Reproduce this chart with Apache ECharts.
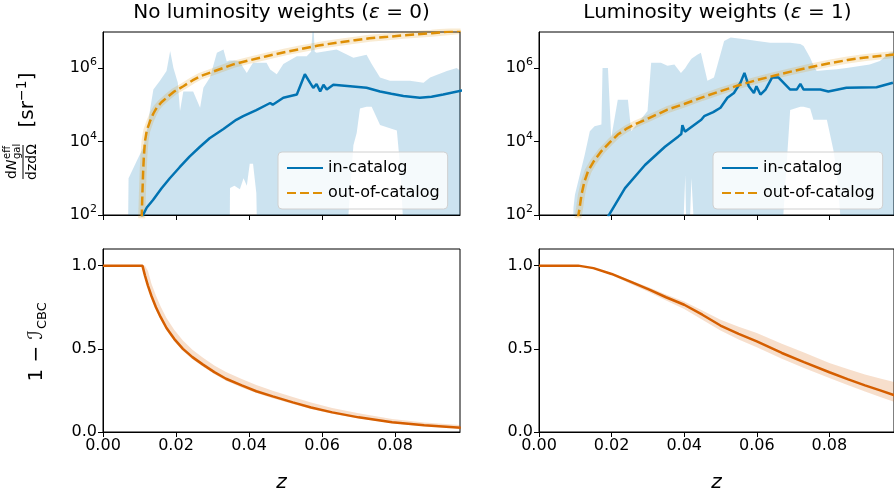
<!DOCTYPE html>
<html>
<head>
<meta charset="utf-8">
<title>Effective galaxy density and completeness</title>
<script src="https://cdn.jsdelivr.net/npm/echarts@6/dist/echarts.min.js"></script>
<style>
  html, body { margin: 0; padding: 0; background: #fff; }
  #chart { width: 894px; height: 497px; }
</style>
</head>
<body>
<div id="chart"></div>
<script>
const FONT = 'DejaVu Sans'
const zMax = 0.0978
const zTicks = [0, 0.02, 0.04, 0.06, 0.08]
const logTicks = [1e2, 1e4, 1e6]
const fracTicks = [0, 0.5, 1.0]

// --- top left: no luminosity weights ---
const zInL = [0.0106, 0.0120, 0.0137, 0.0160, 0.0183, 0.0210, 0.0237, 0.0265, 0.0292, 0.0330, 0.0365, 0.0384, 0.0420, 0.0458, 0.0465, 0.0494, 0.0531, 0.0553, 0.0567, 0.0576, 0.0585, 0.0595, 0.0604, 0.0613, 0.0631, 0.0677, 0.0722, 0.0759, 0.0790, 0.0823, 0.0868, 0.0900, 0.0932, 0.0984]
const inCatL = [85, 160, 257, 525, 1000, 2000, 3900, 7100, 1.23e4, 2.2e4, 3.9e4, 4.9e4, 7.2e4, 1.12e5, 1.0e5, 1.55e5, 1.9e5, 6.8e5, 4.0e5, 2.9e5, 3.7e5, 2.3e5, 3.5e5, 2.6e5, 3.5e5, 3.2e5, 2.9e5, 2.3e5, 2.0e5, 1.74e5, 1.55e5, 1.66e5, 1.9e5, 2.45e5]

const zOutL = [0.0106, 0.0108, 0.0110, 0.0112, 0.0115, 0.0120, 0.0129, 0.0138, 0.0147, 0.0160, 0.0174, 0.0195, 0.0220, 0.0245, 0.0266, 0.0300, 0.0357, 0.0400, 0.0448, 0.0500, 0.0540, 0.0590, 0.0640, 0.0690, 0.0730, 0.0780, 0.0823, 0.0900, 0.0980]
const outCatL = [80, 400, 1.55e3, 4.0e3, 1.02e4, 2.0e4, 3.6e4, 5.8e4, 8.3e4, 1.17e5, 1.55e5, 2.3e5, 3.2e5, 4.6e5, 6.0e5, 7.9e5, 1.26e6, 1.62e6, 2.1e6, 2.75e6, 3.3e6, 4.1e6, 4.9e6, 5.75e6, 6.5e6, 7.1e6, 7.8e6, 8.9e6, 1.05e7]

const zBandL = [0.0068, 0.0070, 0.0092, 0.0110, 0.0122, 0.0129, 0.0138, 0.0156, 0.0174, 0.0184, 0.0193, 0.0205, 0.0211, 0.0220, 0.0247, 0.0266, 0.0275, 0.0293, 0.0312, 0.0330, 0.0339, 0.0346, 0.0348, 0.0360, 0.0375, 0.0385, 0.0394, 0.0402, 0.0411, 0.0420, 0.0425, 0.0448, 0.0458, 0.0476, 0.0494, 0.0531, 0.0558, 0.0570, 0.0576, 0.0580, 0.0585, 0.0640, 0.0658, 0.0686, 0.0695, 0.0704, 0.0722, 0.0736, 0.0759, 0.0786, 0.0805, 0.0814, 0.0832, 0.0841, 0.0878, 0.0896, 0.0942, 0.0969, 0.0980]
const bandHiL = [10, 1e3, 2.9e3, 6.8e3, 2.5e4, 7.4e4, 2.6e5, 4.5e5, 8.3e5, 2.9e6, 1.0e6, 4.0e5, 6.8e4, 2.3e5, 2.3e5, 8.3e4, 2.9e5, 5.5e5, 2.6e6, 3.2e6, 1.5e6, 1.6e6, 1.6e6, 1.6e6, 1.5e6, 1.0e6, 7.4e5, 1.0e6, 1.4e6, 1.4e6, 1.4e6, 1.4e6, 9.1e5, 6.8e5, 1.3e6, 2.1e6, 2.1e6, 2.8e6, 2.0e7, 2.8e6, 2.6e6, 3.2e6, 2.6e6, 1.9e6, 2.0e6, 2.1e6, 2.3e6, 1.3e6, 5.5e5, 4.5e5, 4.5e5, 4.5e5, 4.5e5, 4.5e5, 4.0e5, 5.5e5, 8.3e5, 1.0e6, 8.3e5]
const bandLoL = [1, 1, 1, 1, 1, 1, 1, 1, 1, 1, 1, 1, 1, 1, 1, 1, 1, 1, 1, 1, 1, 1, 540, 630, 500, 1000, 630, 2500, 2500, 400, 1, 1, 1, 1, 1, 1, 1, 1, 1, 1, 1, 1, 1, 7.9e3, 1.7e4, 7.9e4, 8.9e4, 8.9e4, 2.8e4, 2.3e4, 2.0e4, 2.1e3, 1, 1, 1, 1, 1, 1, 1]

// --- top right: luminosity weights ---
const zInR = [0.0190, 0.0237, 0.0292, 0.0347, 0.0384, 0.0392, 0.0395, 0.0402, 0.0447, 0.0455, 0.0480, 0.0500, 0.0519, 0.0537, 0.0555, 0.0566, 0.0578, 0.0592, 0.0599, 0.0610, 0.0624, 0.0642, 0.0660, 0.0692, 0.0710, 0.0720, 0.0729, 0.0775, 0.0797, 0.0847, 0.0930, 0.0975]
const inCatR = [90, 540, 2.3e3, 7.2e3, 1.38e4, 1.6e4, 2.8e4, 1.86e4, 3.9e4, 4.9e4, 6.3e4, 8.3e4, 1.55e5, 2.1e5, 4.0e5, 7.4e5, 3.2e5, 2.1e5, 3.2e5, 1.9e5, 2.6e5, 5.5e5, 5.5e5, 2.6e5, 2.6e5, 3.7e5, 2.6e5, 2.6e5, 2.3e5, 2.9e5, 3.0e5, 4.0e5]

const zOutR = [0.0107, 0.0112, 0.0117, 0.0125, 0.0135, 0.0150, 0.0172, 0.0195, 0.0217, 0.0240, 0.0263, 0.0300, 0.0354, 0.0400, 0.0450, 0.0500, 0.0550, 0.0600, 0.0650, 0.0700, 0.0750, 0.0800, 0.0850, 0.0900, 0.0980]
const outCatR = [80, 160, 355, 800, 1.55e3, 2.8e3, 5.5e3, 9.5e3, 1.55e4, 2.2e4, 2.9e4, 4.2e4, 7.4e4, 1.05e5, 1.6e5, 2.35e5, 3.4e5, 4.7e5, 6.3e5, 8.3e5, 1.07e6, 1.35e6, 1.66e6, 1.95e6, 2.35e6]

const zBandR = [0.0093, 0.0095, 0.0099, 0.0126, 0.0140, 0.0153, 0.0172, 0.0175, 0.0190, 0.0199, 0.0217, 0.0245, 0.0254, 0.0299, 0.0309, 0.0336, 0.0354, 0.0373, 0.0391, 0.0403, 0.0409, 0.0420, 0.0436, 0.0446, 0.0464, 0.0482, 0.0510, 0.0528, 0.0573, 0.0601, 0.0637, 0.0660, 0.0692, 0.0720, 0.0729, 0.0747, 0.0756, 0.0765, 0.0793, 0.0811, 0.0820, 0.0847, 0.0911, 0.0939, 0.0966, 0.0980]
const bandHiR = [10, 160, 355, 4.4e3, 1.9e4, 2.6e4, 2.9e4, 1.0e6, 1.0e6, 1.26e4, 1.38e5, 1.38e5, 1.9e4, 6.8e4, 1.4e6, 1.4e6, 1.15e6, 1.26e6, 7.4e5, 1.0e6, 1.26e6, 1.8e6, 2.3e6, 2.6e6, 4.5e5, 5.5e5, 5.5e6, 6.8e6, 6.0e6, 5.5e6, 4.9e6, 4.9e6, 4.9e6, 4.5e6, 4.0e6, 1.9e6, 1.2e6, 8.3e5, 8.9e5, 9.1e5, 9.3e5, 1.0e6, 1.26e6, 1.55e6, 2.6e6, 2.8e6]
const bandLoR = [1, 1, 1, 1, 1, 1, 1, 1, 1, 1, 1, 1, 1, 1, 1, 1, 1, 1, 1, 1.2e3, 1, 1.0e3, 1, 1, 1, 1, 1, 1, 1, 1, 1, 1, 7.2e4, 8.9e4, 8.9e4, 7.9e4, 3.9e4, 3.9e4, 3.9e4, 5.9e3, 1.5e3, 1, 1, 1, 1, 1]

// --- bottom: 1 - I_CBC ---
const zBotL = [0, 0.0108, 0.0115, 0.0123, 0.0133, 0.0145, 0.0158, 0.0174, 0.0195, 0.0219, 0.0245, 0.0274, 0.0305, 0.0337, 0.0380, 0.0420, 0.0465, 0.0520, 0.0570, 0.0628, 0.0700, 0.0792, 0.0880, 0.0980]
const compL = [1, 1, 0.94, 0.88, 0.816, 0.75, 0.69, 0.625, 0.56, 0.50, 0.45, 0.405, 0.36, 0.32, 0.28, 0.245, 0.214, 0.178, 0.147, 0.118, 0.088, 0.058, 0.040, 0.026]
const compHiL = [1, 1, 1.0, 0.97, 0.89, 0.82, 0.755, 0.685, 0.615, 0.55, 0.495, 0.447, 0.40, 0.36, 0.318, 0.282, 0.248, 0.21, 0.177, 0.145, 0.112, 0.078, 0.057, 0.042]
const compLoL = [1, 1, 0.93, 0.865, 0.80, 0.735, 0.675, 0.61, 0.545, 0.487, 0.437, 0.392, 0.348, 0.308, 0.268, 0.234, 0.203, 0.168, 0.138, 0.11, 0.082, 0.052, 0.035, 0.02]

const zBotR = [0, 0.0108, 0.0150, 0.0200, 0.0250, 0.0304, 0.0350, 0.0400, 0.0450, 0.0500, 0.0550, 0.0600, 0.0669, 0.0730, 0.0800, 0.0850, 0.0898, 0.0940, 0.0980]
const compR = [1, 1, 0.985, 0.95, 0.905, 0.856, 0.81, 0.765, 0.705, 0.64, 0.59, 0.545, 0.475, 0.42, 0.359, 0.318, 0.28, 0.25, 0.22]
const compHiR = [1, 1, 0.987, 0.956, 0.914, 0.868, 0.827, 0.785, 0.73, 0.675, 0.632, 0.595, 0.53, 0.478, 0.415, 0.378, 0.345, 0.322, 0.30]
const compLoR = [1, 1, 0.982, 0.943, 0.893, 0.84, 0.79, 0.74, 0.675, 0.61, 0.556, 0.51, 0.44, 0.385, 0.325, 0.282, 0.243, 0.21, 0.18]

const BLUE = '#0173b2'
const ORANGE = '#de8f05'
const RED = '#d55e00'
const LW = 2.5

const pairs = (xs, ys) => xs.map((x, i) => [x, ys[i]])

// filled band between two curves, polygon through the axis scales
function band(idx, zs, lo, hi, color) {
  return {
    type: 'custom',
    xAxisIndex: idx,
    yAxisIndex: idx,
    clip: true,
    silent: true,
    z: 1,
    data: zs.map((z, i) => [z, lo[i], hi[i]]),
    encode: { x: 0, y: [1, 2] },
    renderItem: (params, api) => {
      if (params.dataIndex !== 0) return null
      const upper = zs.map((z, i) => api.coord([z, hi[i]]))
      const lower = zs.map((z, i) => api.coord([z, lo[i]])).reverse()
      return {
        type: 'polygon',
        shape: { points: upper.concat(lower) },
        style: { fill: color }
      }
    }
  }
}

function line(idx, name, data, color, extra) {
  return Object.assign({
    type: 'line',
    name: name,
    xAxisIndex: idx,
    yAxisIndex: idx,
    data: data,
    symbol: 'none',
    clip: true,
    silent: true,
    z: 3,
    lineStyle: { color: color, width: LW },
    itemStyle: { color: color }
  }, extra || {})
}

const grids = [
  { left: 103, top: 32, width: 357, height: 183 },
  { left: 539, top: 32, width: 357, height: 183 },
  { left: 103, top: 249, width: 357, height: 183 },
  { left: 539, top: 249, width: 357, height: 183 }
].map(g => Object.assign(g, { show: true, borderColor: '#000', borderWidth: 1 }))

function xAx(gi, bottom) {
  return {
    type: 'value',
    gridIndex: gi,
    min: 0,
    max: zMax,
    axisLine: { show: true, onZero: false, lineStyle: { color: '#000', width: 1 } },
    axisTick: { show: true, length: 5, customValues: zTicks, lineStyle: { color: '#000' } },
    axisLabel: {
      show: bottom, customValues: zTicks, margin: 6,
      formatter: v => v.toFixed(2),
      fontSize: 16, color: '#000', fontFamily: FONT
    },
    splitLine: { show: false },
    name: bottom ? 'z' : '',
    nameLocation: 'middle',
    nameGap: 41,
    nameTextStyle: { fontSize: 20, fontStyle: 'italic', color: '#000', fontFamily: FONT }
  }
}

function yLog(gi) {
  return {
    type: 'log',
    logBase: 10,
    gridIndex: gi,
    min: 100,
    max: 9.6e6,
    axisLine: { show: true, lineStyle: { color: '#000', width: 1 } },
    axisTick: { show: true, length: 5, customValues: logTicks, lineStyle: { color: '#000' } },
    axisLabel: {
      customValues: logTicks, margin: 6,
      formatter: v => '10{s|' + Math.round(Math.log10(v)) + '}',
      fontSize: 16, color: '#000', fontFamily: FONT, lineHeight: 22,
      rich: { s: { fontSize: 11, lineHeight: 11, verticalAlign: 'top', color: '#000', fontFamily: FONT } }
    },
    splitLine: { show: false }
  }
}

function yFrac(gi) {
  return {
    type: 'value',
    gridIndex: gi,
    min: 0,
    max: 1.1,
    axisLine: { show: true, lineStyle: { color: '#000', width: 1 } },
    axisTick: { show: true, length: 5, customValues: fracTicks, lineStyle: { color: '#000' } },
    axisLabel: {
      customValues: fracTicks, margin: 6,
      formatter: v => v.toFixed(1),
      fontSize: 16, color: '#000', fontFamily: FONT
    },
    splitLine: { show: false }
  }
}

function legendAt(left) {
  return {
    data: ['in-catalog', 'out-of-catalog'],
    orient: 'vertical',
    left: left,
    top: 152,
    itemWidth: 36,
    itemHeight: 16,
    itemGap: 5,
    padding: [6, 8, 6, 8],
    backgroundColor: 'rgba(255,255,255,0.8)',
    borderColor: '#d0d0d0',
    borderWidth: 1,
    borderRadius: 4,
    selectedMode: false,
    // hide the marker so only the line sample is left
    itemStyle: { opacity: 0 },
    textStyle: { fontSize: 16, color: '#000', fontFamily: FONT, lineHeight: 20 }
  }
}

const titleStyle = {
  fontSize: 20, fill: '#000', fontFamily: FONT, align: 'center', verticalAlign: 'top',
  rich: { e: { fontSize: 20, fontStyle: 'italic', fontFamily: FONT, fill: '#000' } }
}

const chart = echarts.init(document.getElementById('chart'), null, { renderer: 'canvas' })

chart.setOption({
  animation: false,
  backgroundColor: '#fff',
  grid: grids,
  xAxis: [xAx(0, false), xAx(1, false), xAx(2, true), xAx(3, true)],
  yAxis: [yLog(0), yLog(1), yFrac(2), yFrac(3)],
  legend: [legendAt(278), legendAt(713)],
  series: [
    band(0, zBandL, bandLoL, bandHiL, 'rgba(1,115,178,0.2)'),
    line(0, 'in-catalog', pairs(zInL, inCatL), BLUE),
    line(0, 'oc-halo-L', pairs(zOutL, outCatL), ORANGE,
      { z: 2, lineStyle: { color: 'rgba(222,143,5,0.18)', width: 7 } }),
    line(0, 'out-of-catalog', pairs(zOutL, outCatL), ORANGE,
      { z: 4, lineStyle: { color: ORANGE, width: LW, type: [9, 4] } }),

    band(1, zBandR, bandLoR, bandHiR, 'rgba(1,115,178,0.2)'),
    line(1, 'in-catalog', pairs(zInR, inCatR), BLUE),
    line(1, 'oc-halo-R', pairs(zOutR, outCatR), ORANGE,
      { z: 2, lineStyle: { color: 'rgba(222,143,5,0.18)', width: 7 } }),
    line(1, 'out-of-catalog', pairs(zOutR, outCatR), ORANGE,
      { z: 4, lineStyle: { color: ORANGE, width: LW, type: [9, 4] } }),

    band(2, zBotL, compLoL, compHiL, 'rgba(213,94,0,0.2)'),
    line(2, 'comp-L', pairs(zBotL, compL), RED),
    band(3, zBotR, compLoR, compHiR, 'rgba(213,94,0,0.2)'),
    line(3, 'comp-R', pairs(zBotR, compR), RED)
  ],
  graphic: [
    { type: 'text', x: 281.5, y: 3, style: Object.assign({ text: 'No luminosity weights ({e|ε} = 0)' }, titleStyle) },
    { type: 'text', x: 717.5, y: 3, style: Object.assign({ text: 'Luminosity weights ({e|ε} = 1)' }, titleStyle) },
    // dN_gal^eff / dz dΩ [sr^-1], rotated
    {
      type: 'group', x: 23, y: 162, rotation: Math.PI / 2,
      children: [
        { type: 'text', x: -17, y: -4, style: { text: 'd', fontSize: 14, fontFamily: FONT, fill: '#000', align: 'left', verticalAlign: 'bottom' } },
        { type: 'text', x: -8, y: -4, style: { text: 'N', fontSize: 14, fontStyle: 'italic', fontFamily: FONT, fill: '#000', align: 'left', verticalAlign: 'bottom' } },
        { type: 'text', x: 3, y: -11, style: { text: 'eff', fontSize: 10, fontFamily: FONT, fill: '#000', align: 'left', verticalAlign: 'bottom' } },
        { type: 'text', x: 3, y: -1, style: { text: 'gal', fontSize: 10, fontFamily: FONT, fill: '#000', align: 'left', verticalAlign: 'bottom' } },
        { type: 'line', shape: { x1: -17, y1: 0, x2: 17, y2: 0 }, style: { stroke: '#000', lineWidth: 1 } },
        { type: 'text', x: 0, y: 2, style: { text: 'dzdΩ', fontSize: 14, fontFamily: FONT, fill: '#000', align: 'center', verticalAlign: 'top' } },
        {
          type: 'text', x: 62, y: 5,
          style: {
            text: '[sr{s|−1}]', fontSize: 20, fontFamily: FONT, fill: '#000', align: 'center', verticalAlign: 'middle', lineHeight: 26,
            rich: { s: { fontSize: 14, lineHeight: 14, verticalAlign: 'top', fontFamily: FONT, fill: '#000' } }
          }
        }
      ]
    },
    // 1 - I_CBC, rotated
    {
      type: 'group', x: 37, y: 340, rotation: Math.PI / 2,
      children: [
        { type: 'text', x: 10, y: 0, style: { text: '1 − ℐ', fontSize: 20, fontFamily: FONT, fill: '#000', align: 'right', verticalAlign: 'middle' } },
        { type: 'text', x: 11, y: 6, style: { text: 'CBC', fontSize: 13, fontFamily: FONT, fill: '#000', align: 'left', verticalAlign: 'middle' } }
      ]
    }
  ]
})
</script>
</body>
</html>
